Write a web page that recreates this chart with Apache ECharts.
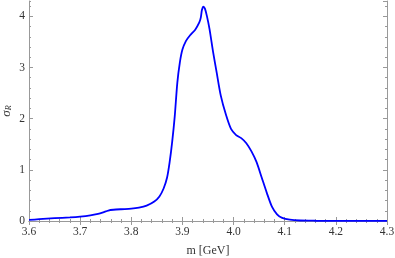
<!DOCTYPE html>
<html>
<head>
<meta charset="utf-8">
<script src="https://cdn.jsdelivr.net/npm/echarts@6/dist/echarts.min.js"></script>
<style>html,body{margin:0;padding:0;background:#fff}#c{width:395px;height:258px}</style>
</head>
<body>
<div id="c"></div>
<script>
var massValues = [3.600,3.620,3.650,3.680,3.700,3.720,3.735,3.745,3.755,3.765,3.780,3.800,3.815,3.830,3.845,3.855,3.863,3.870,3.875,3.880,3.885,3.890,3.895,3.900,3.907,3.915,3.925,3.933,3.936,3.938,3.941,3.944,3.948,3.953,3.960,3.967,3.975,3.985,3.995,4.005,4.015,4.025,4.035,4.045,4.055,4.065,4.075,4.085,4.095,4.110,4.130,4.160,4.200,4.250,4.300];
var sigmaValues = [0.02,0.035,0.055,0.07,0.085,0.11,0.14,0.17,0.205,0.22,0.23,0.24,0.26,0.30,0.38,0.48,0.63,0.85,1.15,1.55,2.05,2.7,3.1,3.35,3.52,3.63,3.74,3.88,3.98,4.12,4.19,4.15,4.0,3.75,3.3,2.9,2.45,2.08,1.8,1.68,1.62,1.52,1.36,1.15,0.85,0.55,0.28,0.13,0.06,0.025,0.01,0.005,0.002,0.001,0.001];
var xTickValues = [3.6,3.7,3.8,3.9,4.0,4.1,4.2,4.3];
var yTickValues = [0,1,2,3,4];
var xName = 'm [GeV]';

var frame = '#999999';
var labelColor = '#333333';
var serif = 'Liberation Serif';
var data = massValues.map(function(m,i){return [m, sigmaValues[i]];});
var xMin=3.6,xMax=4.3,yMin=0,yMax=4.3;

function xAx(pos, minor, labels) {
  return {
    type:'value', position:pos, min:xMin, max:xMax, interval: minor?0.02:0.1,
    axisLine:{show:!minor, lineStyle:{color:frame,width:1}},
    axisTick:{show:true, inside:true, length: minor?2:4, lineStyle:{color:frame}},
    axisLabel:{show:labels, color:labelColor, fontFamily:serif, fontSize:11.5, margin:5,
      formatter:function(v){return v.toFixed(1);}},
    splitLine:{show:false},
    name: labels? xName : '', nameLocation:'middle', nameGap:24,
    nameTextStyle:{color:labelColor, fontFamily:serif, fontSize:12}
  };
}
function yAx(pos, minor, labels) {
  return {
    type:'value', position:pos, min:yMin, max:yMax, interval: minor?0.2:1,
    axisLine:{show:!minor, lineStyle:{color:frame,width:1}},
    axisTick:{show:true, inside:true, length: minor?2:4, lineStyle:{color:frame}},
    axisLabel:{show:labels, color:labelColor, fontFamily:serif, fontSize:11.5, margin:4,
      showMaxLabel:false,
      formatter:function(v){return yTickValues.indexOf(v)>=0 ? String(v) : '';}},
    splitLine:{show:false},
    name: labels ? '{s|σ}{r|R}' : '', nameLocation:'middle', nameGap:16,
    nameMoveOverlap:false,
    nameTextStyle:{rich:{
      s:{fontFamily:serif, fontStyle:'italic', fontSize:13, color:labelColor},
      r:{fontFamily:serif, fontStyle:'italic', fontSize:8, color:labelColor, padding:[5,0,0,0]}
    }}
  };
}

var chart = echarts.init(document.getElementById('c'), null, {renderer:'canvas'});
chart.setOption({
  animation:false,
  backgroundColor:'#ffffff',
  grid:{left:29, right:8, top:1, bottom:37, containLabel:false, outerBoundsMode:'none'},
  xAxis:[xAx('bottom',false,true), xAx('bottom',true,false), xAx('top',false,false), xAx('top',true,false)],
  yAxis:[yAx('left',false,true), yAx('left',true,false), yAx('right',false,false), yAx('right',true,false)],
  series:[{
    type:'line', data:data, xAxisIndex:0, yAxisIndex:0,
    showSymbol:false, smooth:0.25,
    lineStyle:{color:'#0000ff', width:1.8}
  }]
});
</script>
</body>
</html>
